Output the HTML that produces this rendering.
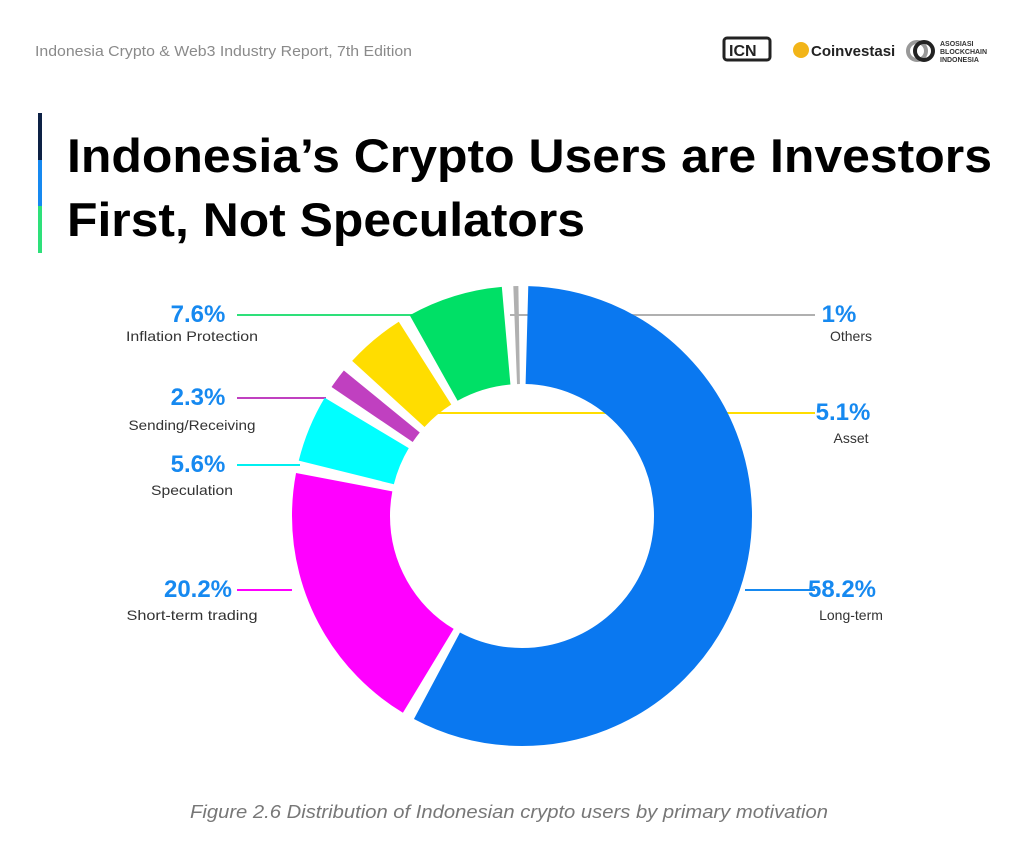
<!DOCTYPE html>
<html><head><meta charset="utf-8"><style>
html,body{margin:0;padding:0;background:#fff;}
svg{display:block;font-family:"Liberation Sans",sans-serif;}
.p{font-size:24px;font-weight:bold;fill:#1689f0;text-anchor:middle;}
.l{font-size:14px;fill:#333;text-anchor:middle;}
</style></head><body>
<svg width="1024" height="849" viewBox="0 0 1024 849" xmlns="http://www.w3.org/2000/svg">
<rect width="1024" height="849" fill="#fff"/>
<text x="35" y="56" font-size="15" fill="#8a8a8a" textLength="377" lengthAdjust="spacingAndGlyphs">Indonesia Crypto &amp; Web3 Industry Report, 7th Edition</text>
<!-- logos -->
<rect x="724" y="38" width="46" height="22" rx="3" fill="none" stroke="#222" stroke-width="3"/>
<text x="729" y="56" font-size="16" font-weight="bold" fill="#222">ICN</text>
<circle cx="801" cy="50" r="8" fill="#f2b519"/>
<text x="811" y="56" font-size="15" font-weight="bold" fill="#222">Coinvestasi</text>
<circle cx="917" cy="51" r="9" fill="none" stroke="#999" stroke-width="4"/>
<circle cx="924" cy="51" r="9" fill="none" stroke="#222" stroke-width="4"/>
<text x="940" y="46" font-size="7" fill="#333" font-weight="bold">ASOSIASI</text>
<text x="940" y="54" font-size="7" fill="#333" font-weight="bold">BLOCKCHAIN</text>
<text x="940" y="62" font-size="7" fill="#333" font-weight="bold">INDONESIA</text>
<!-- title bar -->
<rect x="38" y="113" width="4" height="47" fill="#0d2145"/>
<rect x="38" y="160" width="4" height="46" fill="#1689f0"/>
<rect x="38" y="206" width="4" height="47" fill="#2ee07a"/>
<text x="67" y="172" font-size="47" font-weight="bold" fill="#000" textLength="925" lengthAdjust="spacingAndGlyphs">Indonesia’s Crypto Users are Investors</text>
<text x="67" y="236" font-size="47" font-weight="bold" fill="#000" textLength="518" lengthAdjust="spacingAndGlyphs">First, Not Speculators</text>
<!-- leader lines -->
<line x1="237" y1="315" x2="412" y2="315" stroke="#2ee07a" stroke-width="2"/>
<line x1="510" y1="315" x2="815" y2="315" stroke="#b0b0b0" stroke-width="2"/>
<line x1="237" y1="398" x2="326" y2="398" stroke="#c040c0" stroke-width="2"/>
<line x1="435" y1="413" x2="815" y2="413" stroke="#ffdd00" stroke-width="2"/>
<line x1="237" y1="465" x2="300" y2="465" stroke="#00f0f0" stroke-width="2"/>
<line x1="237" y1="590" x2="292" y2="590" stroke="#ff00ff" stroke-width="2"/>
<line x1="745" y1="590" x2="815" y2="590" stroke="#1689f0" stroke-width="2"/>
<!-- donut -->
<g transform="rotate(-90 522 516)" fill="none" stroke-width="98">
<circle cx="522" cy="516" r="181" stroke="#0a78f0" stroke-dasharray="651.9 1137.3" stroke-dashoffset="-5"/>
<circle cx="522" cy="516" r="181" stroke="#ff00ff" stroke-dasharray="219.7 1137.3" stroke-dashoffset="-666.9"/>
<circle cx="522" cy="516" r="181" stroke="#00ffff" stroke-dasharray="53.7 1137.3" stroke-dashoffset="-896.6"/>
<circle cx="522" cy="516" r="181" stroke="#c040c0" stroke-dasharray="16.2 1137.3" stroke-dashoffset="-960.3"/>
<circle cx="522" cy="516" r="181" stroke="#ffdd00" stroke-dasharray="48 1137.3" stroke-dashoffset="-986.5"/>
<circle cx="522" cy="516" r="181" stroke="#00e066" stroke-dasharray="76.4 1137.3" stroke-dashoffset="-1044.5"/>
<circle cx="522" cy="516" r="181" stroke="#b0b0b0" stroke-dasharray="4 1137.3" stroke-dashoffset="-1129.9"/>
</g>
<!-- labels -->
<text class="p" x="198" y="322">7.6%</text><text class="l" x="192" y="341" textLength="132" lengthAdjust="spacingAndGlyphs">Inflation Protection</text>
<text class="p" x="198" y="405">2.3%</text><text class="l" x="192" y="430" textLength="127" lengthAdjust="spacingAndGlyphs">Sending/Receiving</text>
<text class="p" x="198" y="472">5.6%</text><text class="l" x="192" y="495" textLength="82" lengthAdjust="spacingAndGlyphs">Speculation</text>
<text class="p" x="198" y="597">20.2%</text><text class="l" x="192" y="620" textLength="131" lengthAdjust="spacingAndGlyphs">Short-term trading</text>
<text class="p" x="839" y="322">1%</text><text class="l" x="851" y="341">Others</text>
<text class="p" x="843" y="420">5.1%</text><text class="l" x="851" y="443">Asset</text>
<text class="p" x="842" y="597">58.2%</text><text class="l" x="851" y="620">Long-term</text>
<text x="509" y="818" font-size="18" font-style="italic" fill="#777" text-anchor="middle" textLength="638" lengthAdjust="spacingAndGlyphs">Figure 2.6 Distribution of Indonesian crypto users by primary motivation</text>
</svg>
</body></html>
